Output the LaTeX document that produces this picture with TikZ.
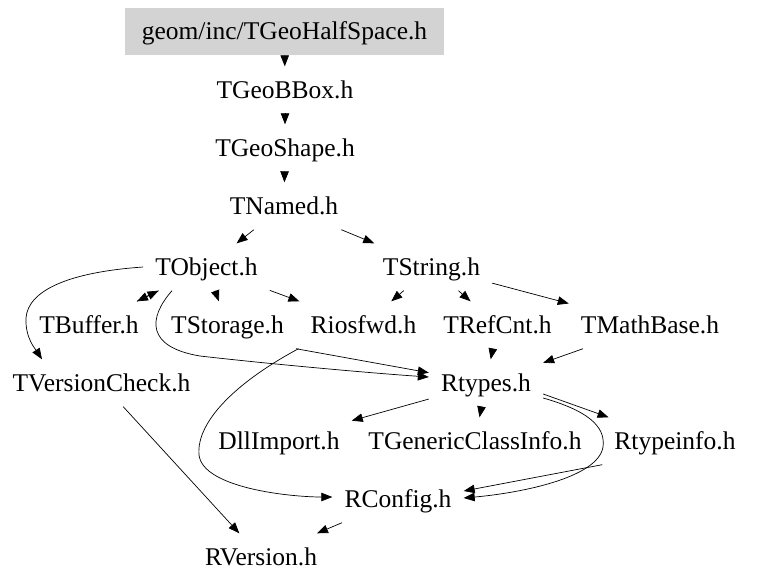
\documentclass[tikz,border=0pt]{standalone}
\usepackage{fontspec}
\setmainfont{Liberation Serif}
\usetikzlibrary{arrows.meta,calc}
\definecolor{hdrgray}{RGB}{211,211,211}
\begin{document}
\begin{tikzpicture}[x=1pt,y=-1pt,
  file/.style={rectangle, minimum height=47pt, inner xsep=12pt, inner ysep=0pt,
    text height=16.8pt, text depth=0pt, font=\fontsize{25.5}{30}\selectfont},
  hdr/.style={file, fill=hdrgray, minimum width=319pt},
  dep/.style={-{Triangle[length=11pt,width=8.5pt]}, line width=0.7pt, black},
]
\useasboundingbox (0,0) rectangle (757,587);
\node[hdr]  (half)      at (284.5,31.5) {geom/inc/TGeoHalfSpace.h};
\node[file] (bbox)      at (285,90)     {TGeoBBox.h};
\node[file] (shape)     at (285,148)    {TGeoShape.h};
\node[file] (named)     at (284,206)    {TNamed.h};
\node[file] (tobject)   at (206.5,267)  {TObject.h};
\node[file] (tstring)   at (431.5,267)  {TString.h};
\node[file] (tbuffer)   at (89,325)     {TBuffer.h};
\node[file] (tstorage)  at (227.5,325)  {TStorage.h};
\node[file] (riosfwd)   at (363.5,325)  {Riosfwd.h};
\node[file] (trefcnt)   at (497.5,325)  {TRefCnt.h};
\node[file] (tmath)     at (650,325)    {TMathBase.h};
\node[file] (tversion)  at (101.5,383)  {TVersionCheck.h};
\node[file] (rtypes)    at (486,383)    {Rtypes.h};
\node[file] (dll)       at (279,441)    {DllImport.h};
\node[file] (generic)   at (475,441)    {TGenericClassInfo.h};
\node[file] (rtypeinfo) at (675,441)    {Rtypeinfo.h};
\node[file] (rconfig)   at (398,499)    {RConfig.h};
\node[file] (rversion)  at (261,557)    {RVersion.h};

\draw[dep] (half) -- (bbox);
\draw[dep] (bbox) -- (shape);
\draw[dep] (shape) -- (named);
\draw[dep] (named) -- (tobject);
\draw[dep] (named) -- (tstring);
\draw[dep] (tobject) -- (tbuffer);
\draw[dep] (tbuffer) -- (tobject);
\draw[dep] (tobject) -- (tstorage);
\draw[dep] (tobject) -- (riosfwd);
\draw[dep] (tobject.west) .. controls (70,272) and (28,290) .. (26,318)
  .. controls (25,338) and (36,350) .. (42,0 |- tversion.north);
\draw[dep] (172,0 |- tobject.south) .. controls (148,318) and (146,347) .. (200,356)
  .. controls (270,364) and (370,373) .. ($(rtypes.west)+(0,-6)$);
\draw[dep] (tstring) -- (riosfwd);
\draw[dep] (tstring) -- (trefcnt);
\draw[dep] (tstring) -- (tmath);
\draw[dep] (tstorage.south east) -- (rtypes);
\draw[dep] (riosfwd.south west) .. controls (240,380) and (196,420) .. (199,455)
  .. controls (203,488) and (290,497) .. ($(rconfig.west)+(0,-2)$);
\draw[dep] (trefcnt) -- (rtypes);
\draw[dep] (tmath) -- (rtypes);
\draw[dep] (rtypes) -- (dll);
\draw[dep] (rtypes) -- (generic);
\draw[dep] ($(rtypes.east)+(0,11)$) -- (rtypeinfo);
\draw[dep] ($(rtypes.east)+(0,15)$) .. controls (585,410) and (606,425) .. (603,447)
  .. controls (598,478) and (520,493) .. ($(rconfig.east)+(0,-1)$);
\draw[dep] (rtypeinfo.south west) -- ($(rconfig.east)+(0,-8)$);
\draw[dep] (rconfig) -- (rversion);
\draw[dep] (tversion) -- (rversion);
\end{tikzpicture}
\end{document}
